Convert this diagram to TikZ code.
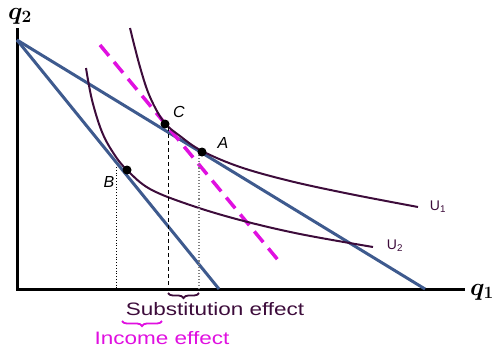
\documentclass[tikz,border=0pt]{standalone}
\usepackage{amsmath}
\usepackage{fontspec}
\setmainfont{Liberation Sans}
\usetikzlibrary{decorations.pathreplacing}
\definecolor{budget}{HTML}{3E5A8E}
\definecolor{indiff}{HTML}{3D0C3B}
\definecolor{mag}{HTML}{E010E0}
\definecolor{grayd}{HTML}{808080}
\tikzset{
  axis/.style={line width=3pt, black},
  budgetline/.style={line width=3pt, budget},
  icurve/.style={line width=2pt, indiff},
  compline/.style={line width=3.5pt, mag, dash pattern=on 14pt off 8pt},
  dotpt/.style={circle, fill=black, inner sep=0pt, minimum size=9pt},
  ptlabel/.style={font=\fontsize{16}{16}\selectfont\itshape},
  ulabel/.style={font=\fontsize{14}{14}\selectfont, text=indiff},
  effect/.style={font=\fontsize{18}{18}\selectfont},
  axlabel/.style={font=\fontsize{23}{23}\selectfont, inner sep=1pt},
}
\begin{document}
\begin{tikzpicture}[x=1pt,y=-1pt]
\useasboundingbox (0,0) rectangle (492,348);
% axes
\coordinate (O) at (17,289);
\coordinate (Ytop) at (17,28);
\coordinate (Xend) at (465,289);
\draw[axis] (Ytop) -- (O) -- (Xend);
\node[axlabel] (q2) at (20,16) {$\boldsymbol{q_2}$};
\node[axlabel] (q1) at (482,292) {$\boldsymbol{q_1}$};
% budget lines
\coordinate (I0) at (17,40);
\coordinate (X1) at (425,289);
\coordinate (X2) at (219,289);
\draw[budgetline] (I0) -- (X1);
\draw[budgetline] (I0) -- (X2);
% compensated budget line
\coordinate (D1) at (100,45);
\coordinate (D2) at (278,260);
\draw[compline] (D1) -- (D2);
% indifference curves
\draw[icurve] plot[smooth, tension=0.6] coordinates {(130,28) (140,67) (150,97) (164,122) (180,136) (202,151) (240,167) (290,181) (350,194) (418,207)};
\draw[icurve] plot[smooth, tension=0.6] coordinates {(86,68) (92,100) (102,132) (114,154) (127,170) (150,189) (190,205) (240,220) (300,234) (373,247)};
% vertical guide lines
\coordinate (Bv) at (116,167);
\coordinate (Bx) at (116,289);
\coordinate (Cv) at (168,127);
\coordinate (Cx) at (168,289);
\coordinate (Av) at (199,155);
\coordinate (Ax) at (199,289);
\draw[black, line width=0.8pt, dotted] (Bv) -- (Bx);
\draw[black, line width=0.9pt, dash pattern=on 4pt off 3pt] (Cv) -- (Cx);
\draw[grayd, line width=1.1pt, dotted] (Av) -- (Ax);
% points
\node[dotpt] (C) at (165,124) {};
\node[dotpt] (A) at (202,152) {};
\node[dotpt] (B) at (127,170) {};
\node[ptlabel] (Cl) at (179,112) {C};
\node[ptlabel] (Al) at (223,143) {A};
\node[ptlabel] (Bl) at (109,182) {B};
\node[ulabel] (U1) at (438,207) {U\textsubscript{1}};
\node[ulabel] (U2) at (395,246) {U\textsubscript{2}};
% braces
\coordinate (S1) at (168,293);
\coordinate (S2) at (199,293);
\draw[indiff, line width=1.8pt, decorate, decoration={brace, amplitude=5pt}] (S2) -- (S1);
\coordinate (I1) at (122,321);
\coordinate (I2) at (162,321);
\draw[mag, line width=1.8pt, decorate, decoration={brace, amplitude=5pt}] (I2) -- (I1);
\node[effect, text=indiff] (subst) at (215,309) {\scalebox{1.25}[1]{Substitution effect}};
\node[effect, text=mag] (inc) at (162,338) {\scalebox{1.25}[1]{Income effect}};
\end{tikzpicture}
\end{document}
